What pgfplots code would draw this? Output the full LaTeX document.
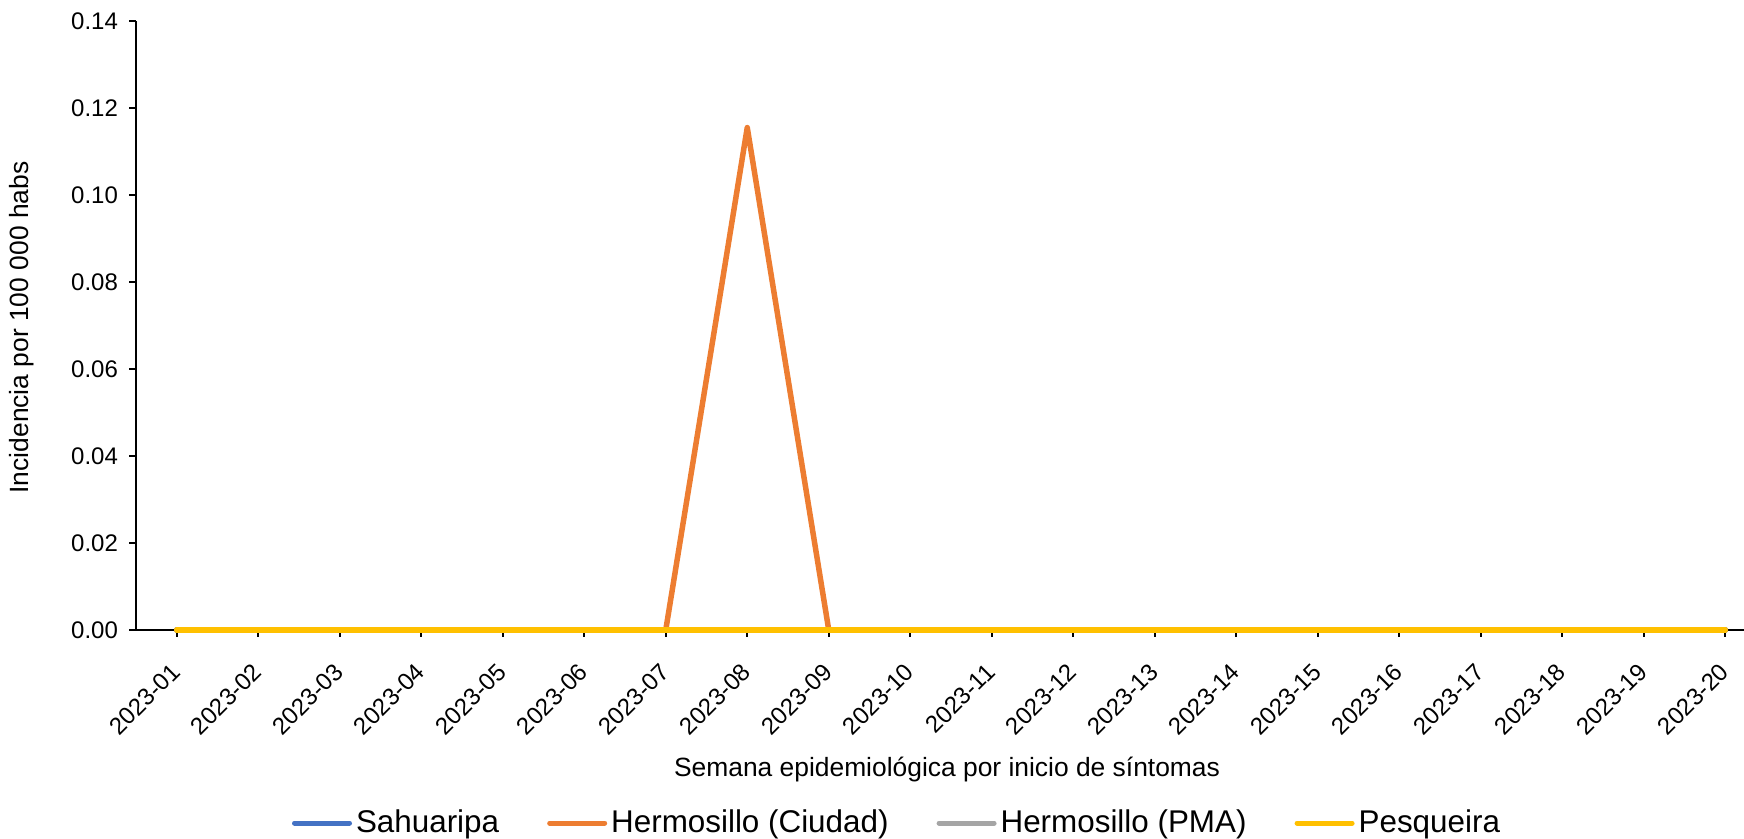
\documentclass[border=0pt]{standalone}
\usepackage{pgfplots}
\pgfplotsset{compat=1.18}
\usepackage{fontspec}
\setmainfont{Liberation Sans}
\definecolor{cblue}{HTML}{4472C4}
\definecolor{corange}{HTML}{ED7D31}
\definecolor{cgray}{HTML}{A5A5A5}
\definecolor{cgold}{HTML}{FFC000}
\begin{document}
\begin{tikzpicture}
\begin{axis}[
  at={(0,0)}, anchor=south west,
  scale only axis, width=804pt, height=304.5pt,
  xmin=-0.5, xmax=19.23, ymin=0, ymax=0.14,
  axis x line=bottom, axis y line=left,
  axis line style={line width=1pt, black, -},
  xtick={0,...,19},
  xticklabels={2023-01,2023-02,2023-03,2023-04,2023-05,2023-06,2023-07,2023-08,2023-09,2023-10,2023-11,2023-12,2023-13,2023-14,2023-15,2023-16,2023-17,2023-18,2023-19,2023-20},
  ytick={0,0.02,...,0.14},
  /pgf/number format/fixed, /pgf/number format/fixed zerofill, /pgf/number format/precision=2, /pgf/number format/assume math mode=true,
  yticklabel style={font=\fontsize{12pt}{14pt}\selectfont, xshift=-2pt},
  xticklabel style={font=\fontsize{12pt}{14pt}\selectfont, yshift=-13pt, xshift=2pt, rotate=45, anchor=east},
  tick style={black, line width=1pt},
  major tick length=3.5pt,
  tick align=outside,
  xlabel={Semana epidemiológica por inicio de síntomas},
  ylabel={Incidencia por 100 000 habs},
  label style={font=\fontsize{13.2pt}{15pt}\selectfont},
  xlabel style={at={(405.5pt,-70pt)}, anchor=center},
  ylabel style={at={(-57pt,151.25pt)}, anchor=center},
  clip=false,
  legend columns=4,
  legend style={at={(381pt,-96.5pt)}, anchor=center, draw=none, fill=none,
    font=\fontsize{15.7pt}{17pt}\selectfont,
    /tikz/every even column/.append style={column sep=22pt},
    /tikz/every odd column/.append style={column sep=0pt},
    inner sep=0pt},
  legend image code/.code={\draw[#1, line width=2.5pt, line cap=round] (0pt,0pt) -- (27.5pt,0pt);},
  every axis plot/.append style={line width=2.75pt, line cap=round, line join=round},
]
\addplot[cblue] coordinates {(0,0)(1,0)(2,0)(3,0)(4,0)(5,0)(6,0)(7,0)(8,0)(9,0)(10,0)(11,0)(12,0)(13,0)(14,0)(15,0)(16,0)(17,0)(18,0)(19,0)};
\addlegendentry{Sahuaripa}
\addplot[corange] coordinates {(0,0)(1,0)(2,0)(3,0)(4,0)(5,0)(6,0)(7,0.1155)(8,0)(9,0)(10,0)(11,0)(12,0)(13,0)(14,0)(15,0)(16,0)(17,0)(18,0)(19,0)};
\addlegendentry{Hermosillo (Ciudad)}
\addplot[cgray] coordinates {(0,0)(1,0)(2,0)(3,0)(4,0)(5,0)(6,0)(7,0)(8,0)(9,0)(10,0)(11,0)(12,0)(13,0)(14,0)(15,0)(16,0)(17,0)(18,0)(19,0)};
\addlegendentry{Hermosillo (PMA)}
\addplot[cgold] coordinates {(0,0)(1,0)(2,0)(3,0)(4,0)(5,0)(6,0)(7,0)(8,0)(9,0)(10,0)(11,0)(12,0)(13,0)(14,0)(15,0)(16,0)(17,0)(18,0)(19,0)};
\addlegendentry{Pesqueira}
\end{axis}
\pgfresetboundingbox
\useasboundingbox (-68pt,-104.5pt) rectangle (804pt,315pt);
\end{tikzpicture}
\end{document}
